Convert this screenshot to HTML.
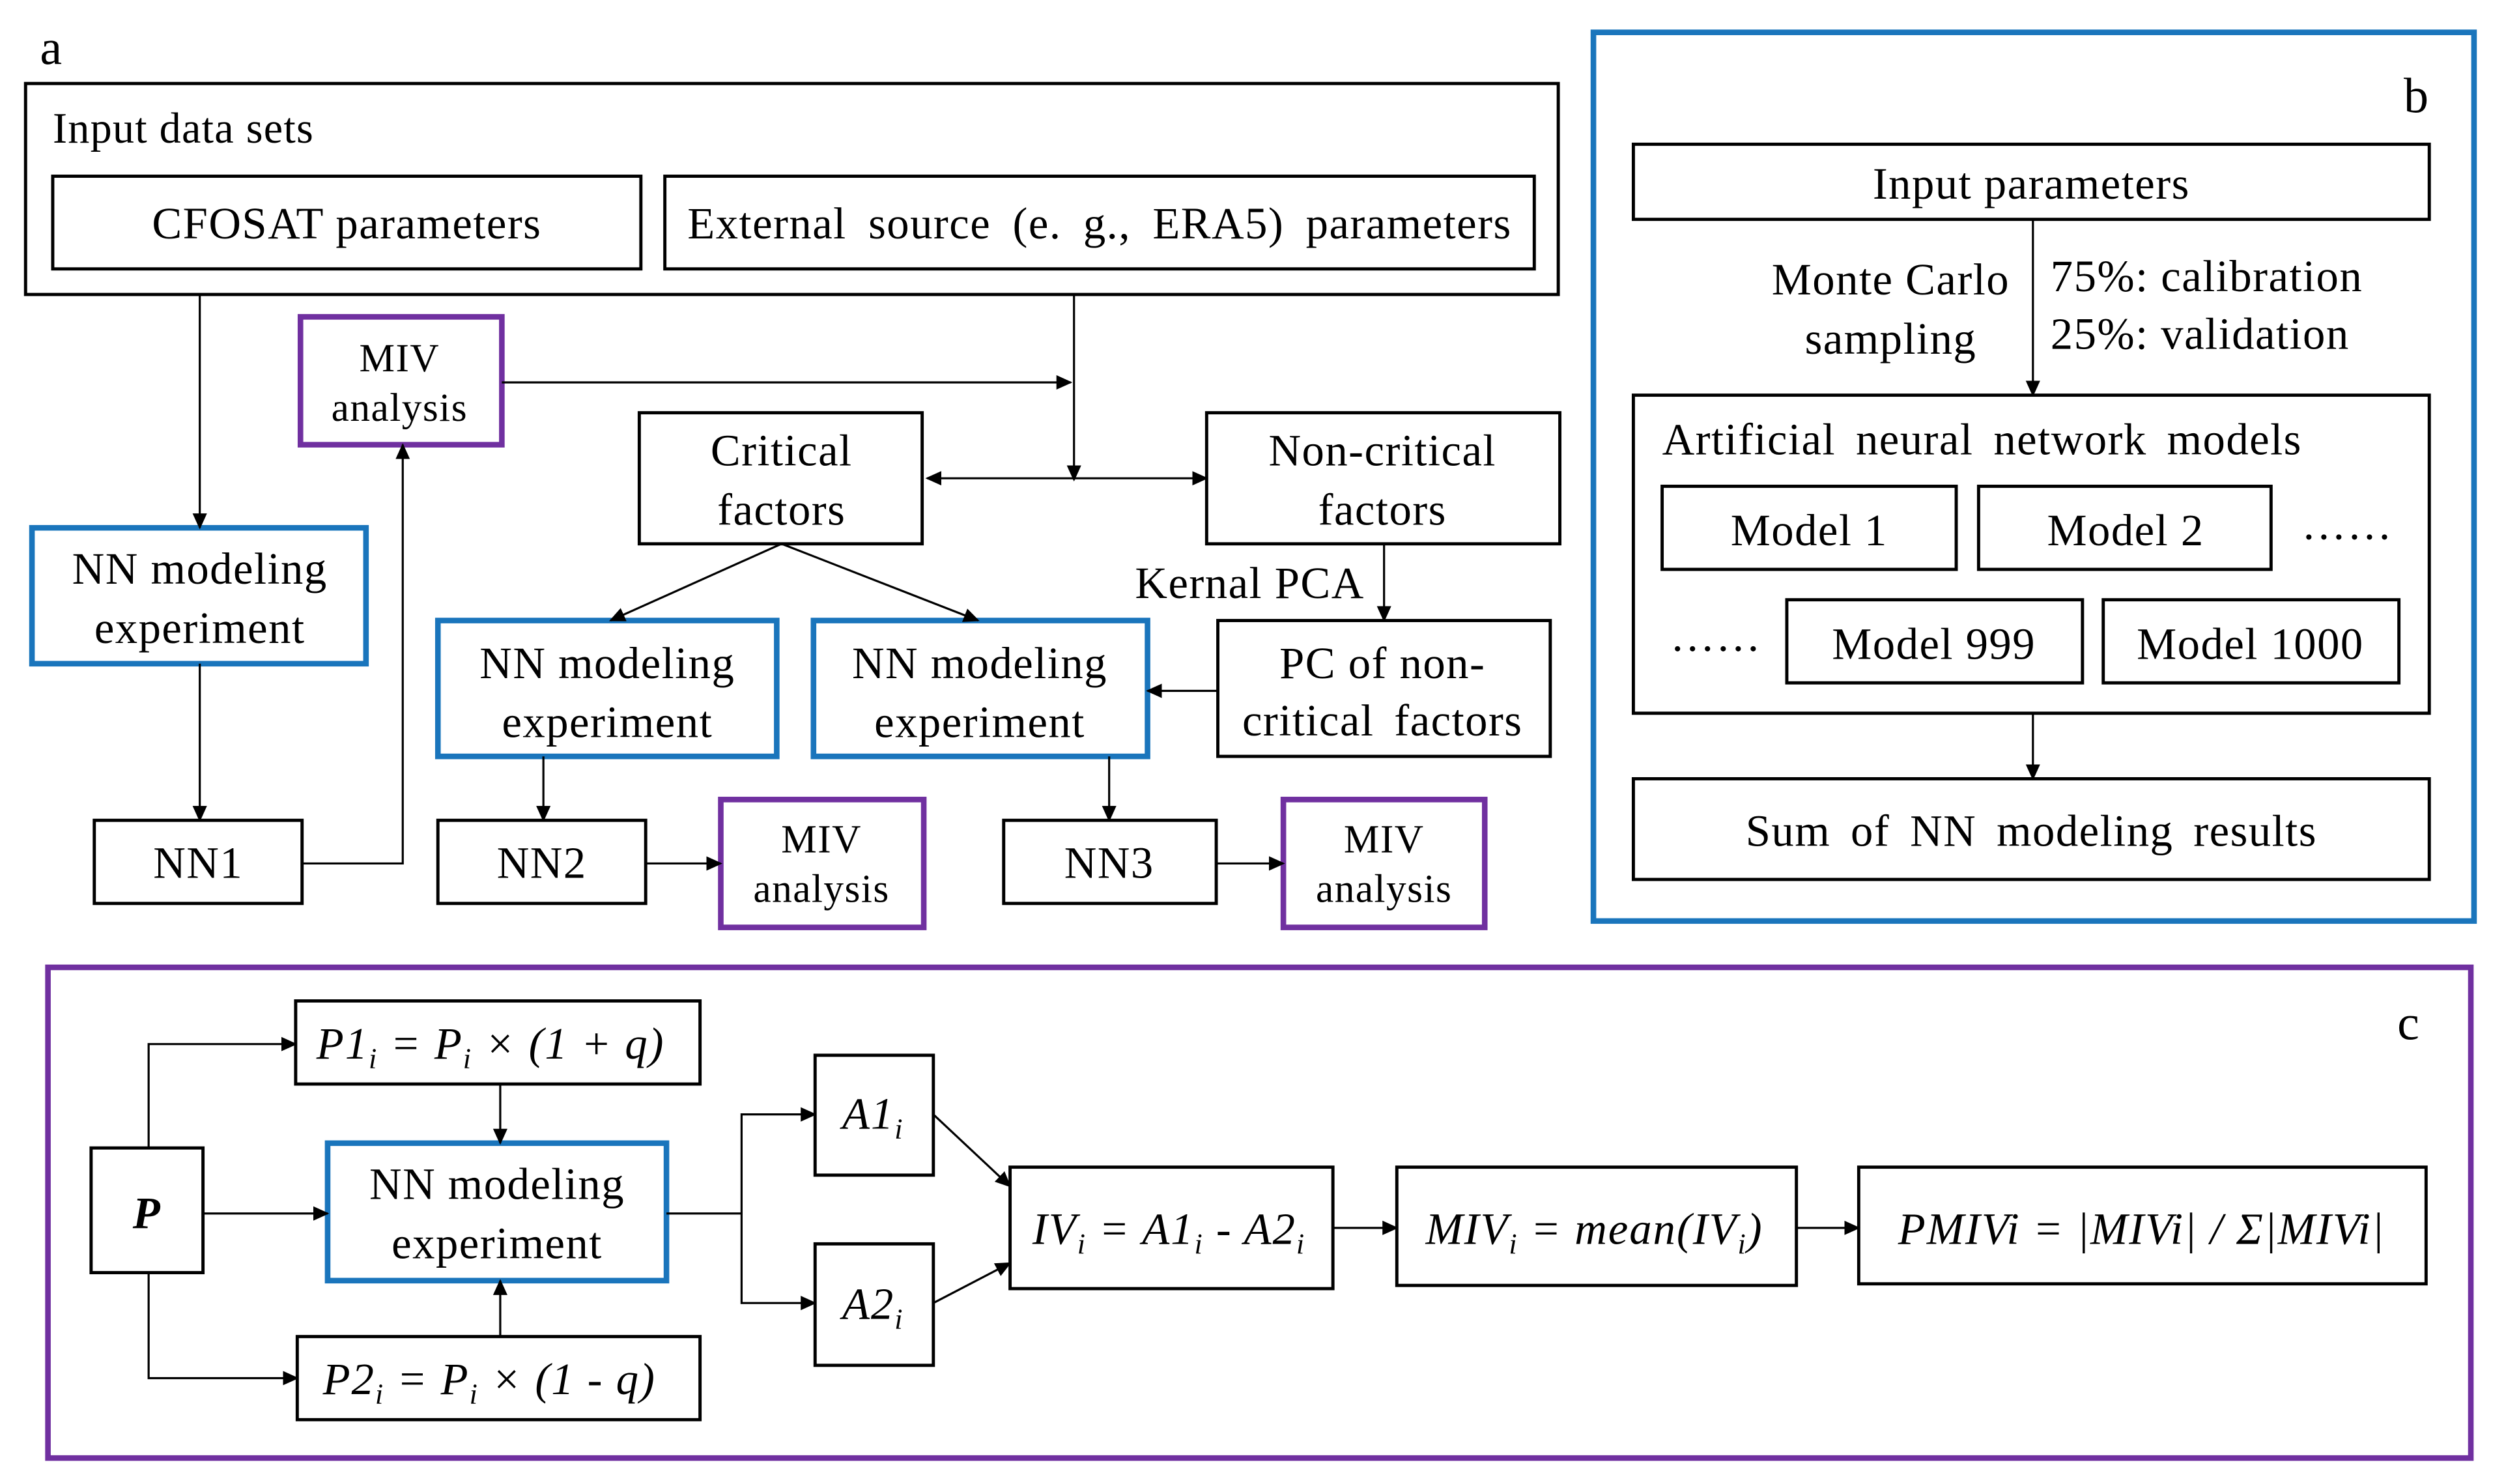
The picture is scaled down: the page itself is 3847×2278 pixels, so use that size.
<!DOCTYPE html>
<html><head><meta charset="utf-8"><style>
html,body{margin:0;padding:0;background:#fff;}
svg{display:block;}
text{font-family:"Liberation Serif",serif;fill:#000;}
</style></head><body>
<svg width="3847" height="2278" viewBox="0 0 1568 928" xmlns="http://www.w3.org/2000/svg">
<defs>
<marker id="ar" markerWidth="10" markerHeight="10" refX="9" refY="5" orient="auto" markerUnits="userSpaceOnUse">
<path d="M0,0.5 L10,5 L0,9.5 z" fill="#000"/></marker>
<marker id="as" markerWidth="10" markerHeight="10" refX="1" refY="5" orient="auto" markerUnits="userSpaceOnUse">
<path d="M10,0.5 L0,5 L10,9.5 z" fill="#000"/></marker>
</defs>
<g fill="none" stroke="#000" stroke-width="2">
<rect x="16" y="52" width="959" height="132"/>
<rect x="33" y="110" width="368" height="58"/>
<rect x="416" y="110" width="544" height="58"/>
<rect x="59" y="513" width="130" height="52"/>
<rect x="400" y="258" width="177" height="82"/>
<rect x="755" y="258" width="221" height="82"/>
<rect x="762" y="388" width="208" height="85"/>
<rect x="274" y="513" width="130" height="52"/>
<rect x="628" y="513" width="133" height="52"/>
<rect x="1022" y="90" width="498" height="47"/>
<rect x="1022" y="247" width="498" height="199"/>
<rect x="1040" y="304" width="184" height="52"/>
<rect x="1238" y="304" width="183" height="52"/>
<rect x="1118" y="375" width="185" height="52"/>
<rect x="1316" y="375" width="185" height="52"/>
<rect x="1022" y="487" width="498" height="63"/>
<rect x="57" y="718" width="70" height="78"/>
<rect x="185" y="626" width="253" height="52"/>
<rect x="186" y="836" width="252" height="52"/>
<rect x="510" y="660" width="74" height="75"/>
<rect x="510" y="778" width="74" height="76"/>
<rect x="632" y="730" width="202" height="76"/>
<rect x="874" y="730" width="250" height="74"/>
<rect x="1163" y="730" width="355" height="73"/>
</g>
<g fill="none" stroke="#1a75bc" stroke-width="3.5">
<rect x="20" y="330" width="209" height="85"/>
<rect x="274" y="388" width="212" height="85"/>
<rect x="509" y="388" width="209" height="85"/>
<rect x="997" y="20" width="551" height="556"/>
<rect x="205" y="715" width="212" height="86"/>
</g>
<g fill="none" stroke="#7030a0" stroke-width="3.5">
<rect x="188" y="198" width="126" height="80"/>
<rect x="451" y="500" width="127" height="80"/>
<rect x="803" y="500" width="126" height="80"/>
<rect x="30" y="605" width="1516" height="307"/>
</g>
<g fill="none" stroke="#000" stroke-width="1.3" marker-end="url(#ar)">
<path d="M125,184 V330"/>
<path d="M125,415 V513"/>
<path d="M189,540 H252 V278"/>
<path d="M314,239 H670"/>
<path d="M672,184 V300"/>
<path d="M580,299 H755" marker-start="url(#as)"/>
<path d="M489,340 L382,388"/>
<path d="M489,340 L612,388"/>
<path d="M866,340 V388"/>
<path d="M762,432 H718"/>
<path d="M340,473 V513"/>
<path d="M404,540 H451"/>
<path d="M694,473 V513"/>
<path d="M761,540 H803"/>
<path d="M1272,137 V247"/>
<path d="M1272,446 V487"/>
<path d="M93,718 V653 H185"/>
<path d="M93,796 V862 H186"/>
<path d="M127,759 H205"/>
<path d="M313,678 V715"/>
<path d="M313,836 V801"/>
<path d="M417,759 H464 V697 H510"/>
<path d="M464,759 V815 H510"/>
<path d="M584,697 L632,742"/>
<path d="M584,815 L632,790"/>
<path d="M834,768 H874"/>
<path d="M1124,768 H1163"/>
</g>
<g font-size="28">
<text x="25" y="40" font-size="31">a</text>
<text x="1504" y="70" font-size="31">b</text>
<text x="1500" y="650" font-size="31">c</text>
<text x="33" y="89" font-size="27" letter-spacing="0.5">Input data sets</text>
</g>
<g font-size="28" text-anchor="middle" letter-spacing="0.6">
<text x="217" y="149">CFOSAT parameters</text>
<text x="688" y="149" word-spacing="6">External source (e. g., ERA5) parameters</text>
<text x="250" y="232" font-size="25">MIV</text>
<text x="250" y="263" font-size="25">analysis</text>
<text x="125" y="365">NN modeling</text>
<text x="125" y="402">experiment</text>
<text x="124" y="549">NN1</text>
<text x="489" y="291">Critical</text>
<text x="489" y="328">factors</text>
<text x="865" y="291">Non-critical</text>
<text x="865" y="328">factors</text>
<text x="782" y="374">Kernal PCA</text>
<text x="380" y="424">NN modeling</text>
<text x="380" y="461">experiment</text>
<text x="613" y="424">NN modeling</text>
<text x="613" y="461">experiment</text>
<text x="865" y="424">PC of non-</text>
<text x="865" y="460" word-spacing="5">critical factors</text>
<text x="339" y="549">NN2</text>
<text x="694" y="549">NN3</text>
<text x="514" y="533" font-size="25">MIV</text>
<text x="514" y="564" font-size="25">analysis</text>
<text x="866" y="533" font-size="25">MIV</text>
<text x="866" y="564" font-size="25">analysis</text>
<text x="1271" y="124">Input parameters</text>
<text x="1183" y="184">Monte Carlo</text>
<text x="1183" y="221">sampling</text>
<text x="1132" y="341">Model 1</text>
<text x="1330" y="341">Model 2</text>
<text x="1210" y="412">Model 999</text>
<text x="1408" y="412">Model 1000</text>
<text x="1271" y="529" word-spacing="5">Sum of NN modeling results</text>
<text x="311" y="750">NN modeling</text>
<text x="311" y="787">experiment</text>
</g>
<g font-size="28" letter-spacing="0.6">
<text x="1283" y="182">75%: calibration</text>
<text x="1283" y="218">25%: validation</text>
<text x="1040" y="284" word-spacing="5">Artificial neural network models</text>
<text x="1440" y="337">……</text>
<text x="1045" y="407">……</text>
</g>
<g font-size="28" font-style="italic" letter-spacing="0.8">
<text x="92" y="768" text-anchor="middle" font-weight="bold">P</text>
<text x="198" y="662">P1<tspan font-size="18" dy="6">i</tspan><tspan dy="-6"> = P</tspan><tspan font-size="18" dy="6">i</tspan><tspan dy="-6"> × (1 + q)</tspan></text>
<text x="202" y="872">P2<tspan font-size="18" dy="6">i</tspan><tspan dy="-6"> = P</tspan><tspan font-size="18" dy="6">i</tspan><tspan dy="-6"> × (1 - q)</tspan></text>
<text x="527" y="706">A1<tspan font-size="18" dy="6">i</tspan></text>
<text x="527" y="825">A2<tspan font-size="18" dy="6">i</tspan></text>
<text x="646" y="778">IV<tspan font-size="18" dy="6">i</tspan><tspan dy="-6"> = A1</tspan><tspan font-size="18" dy="6">i</tspan><tspan dy="-6"> - A2</tspan><tspan font-size="18" dy="6">i</tspan></text>
<text x="892" y="778">MIV<tspan font-size="18" dy="6">i</tspan><tspan dy="-6"> = mean(IV</tspan><tspan font-size="18" dy="6">i</tspan><tspan dy="-6">)</tspan></text>
<text x="1340" y="778" text-anchor="middle">PMIVi = |MIVi| / Σ|MIVi|</text>
</g>
</svg>
</body></html>
